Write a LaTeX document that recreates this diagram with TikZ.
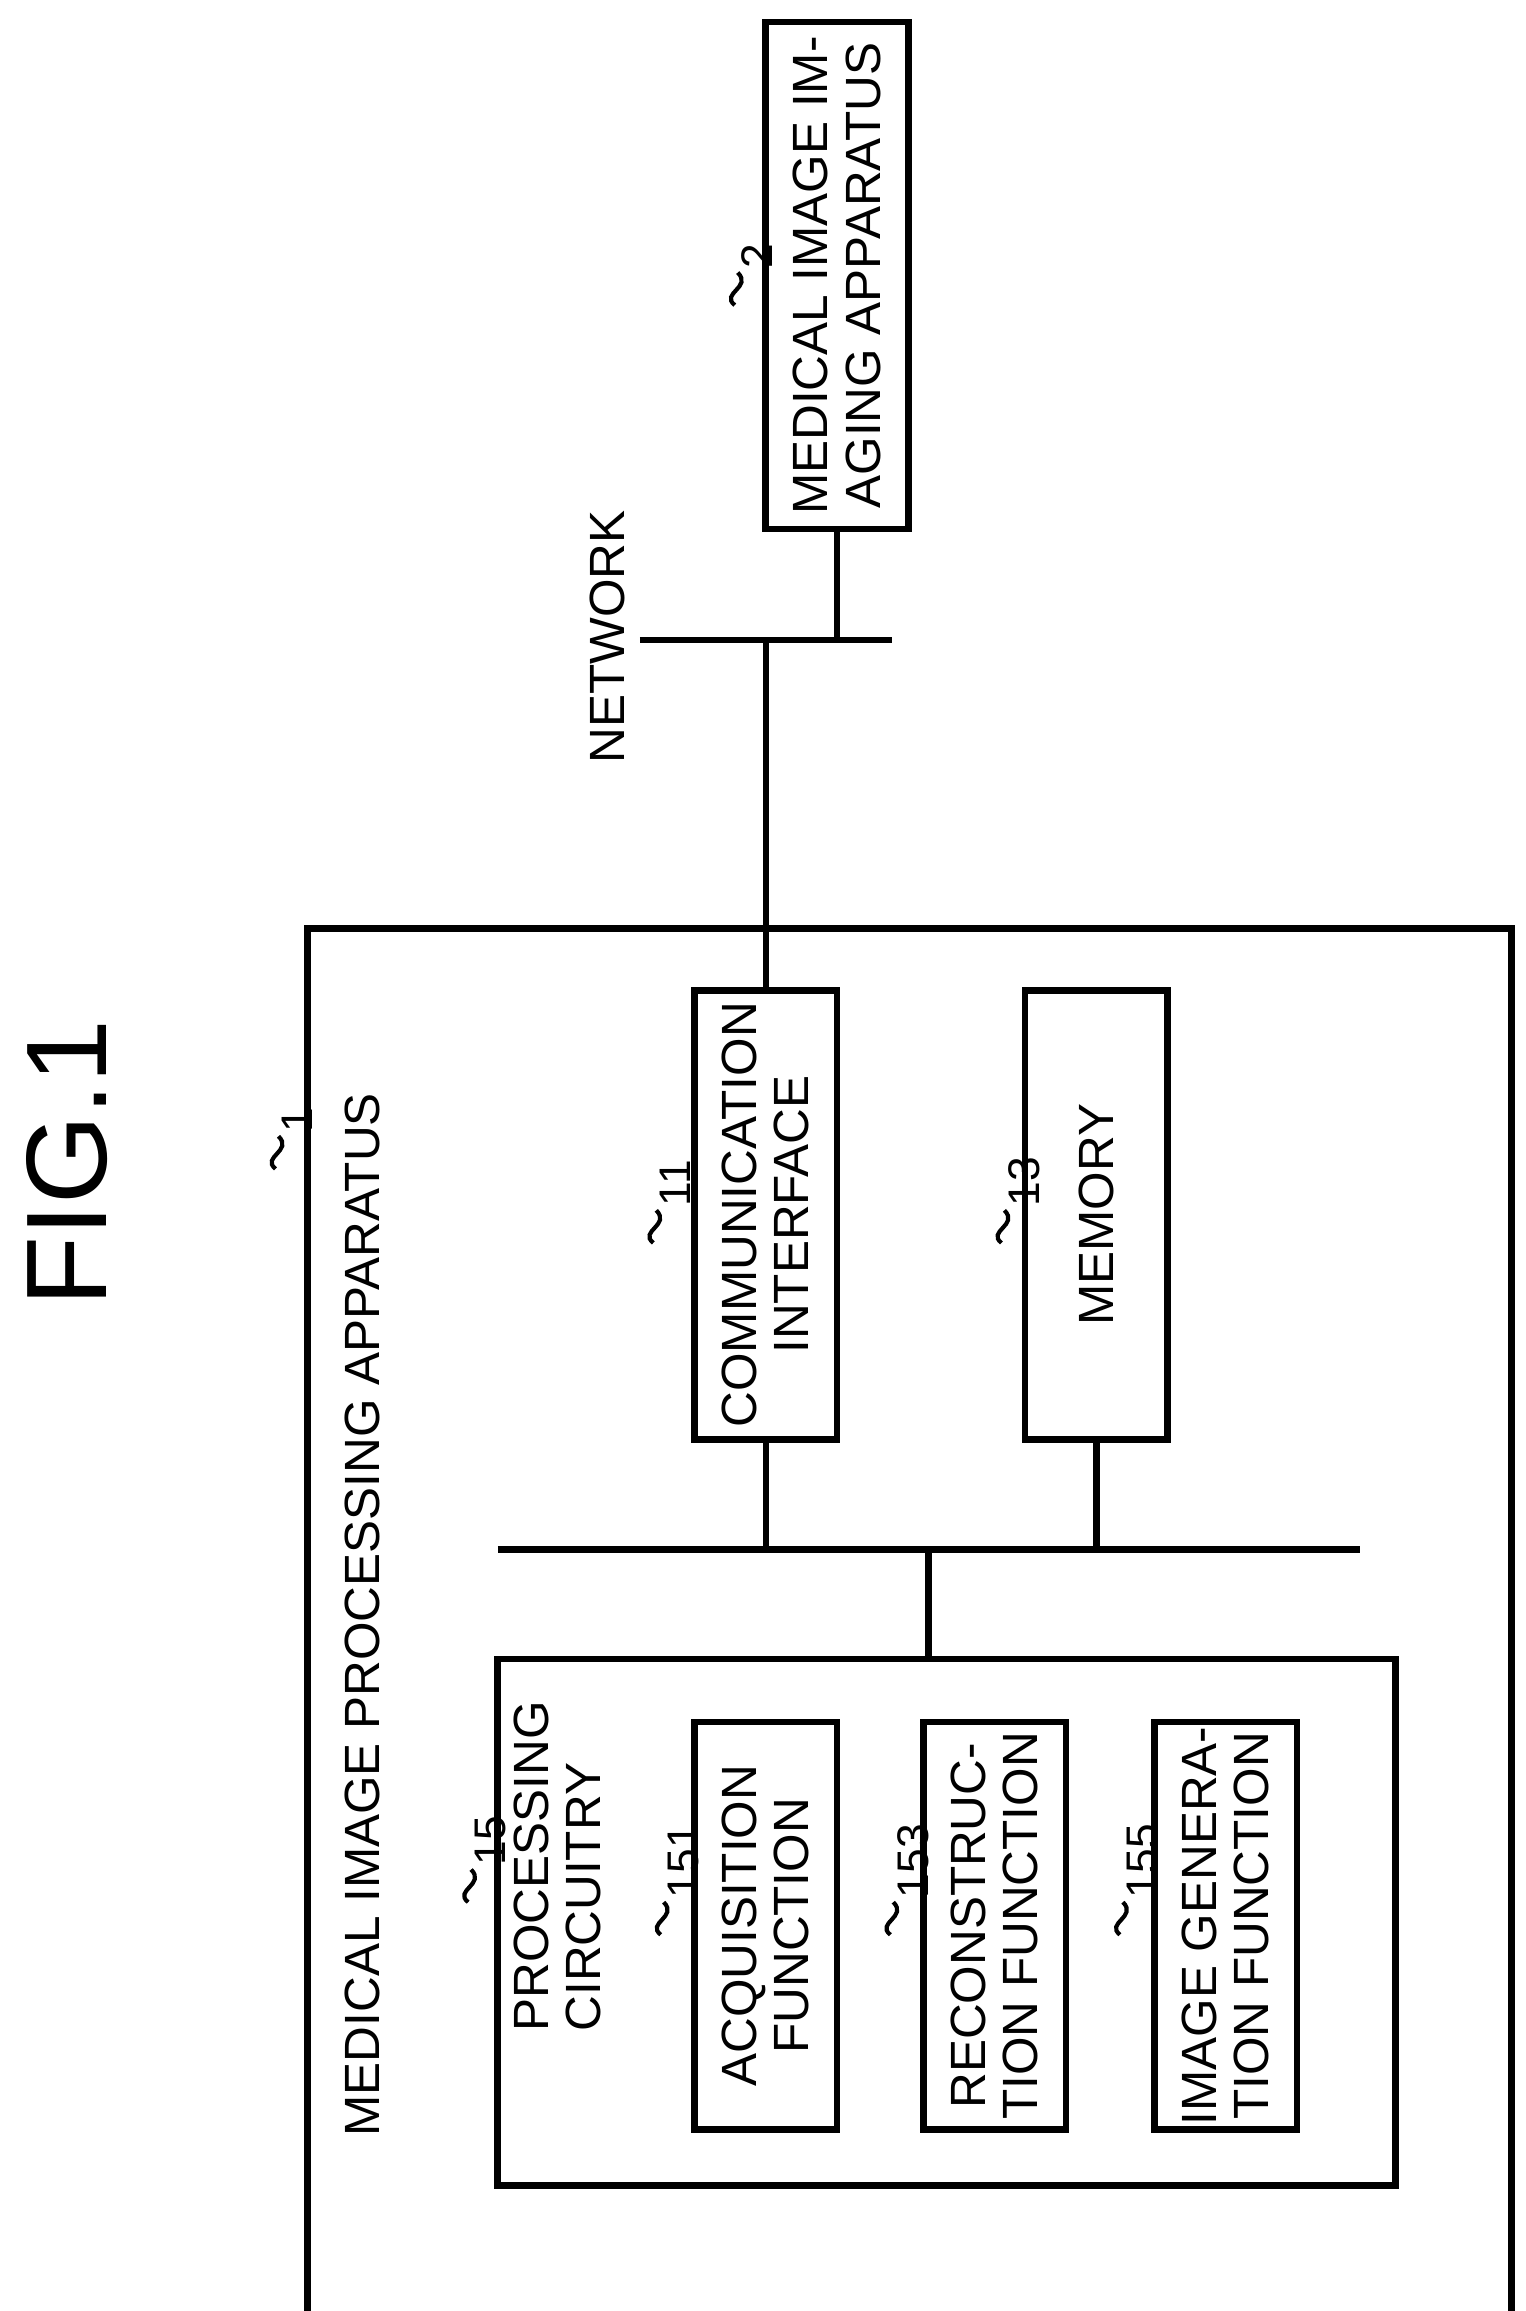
\documentclass[tikz,border=0pt]{standalone}
\usepackage{fontspec}
\setmainfont{Liberation Sans}
\tikzset{
  box/.style={draw, line width=1.3pt, rotate=90, align=center, inner sep=0pt,
    font=\fontsize{9.5}{10}\selectfont},
  txt/.style={rotate=90, align=left, inner sep=0pt, font=\fontsize{9.5}{10}\selectfont},
  line/.style={line width=1.3pt}
}
\newcommand{\refmark}[3]{%
  \draw[line width=0.8pt] (#1-4,#2+14) .. controls (#1-14,#2+6) and (#1+8,#2+2) .. (#1-2,#2-8);
  \node[txt, anchor=north west, font=\fontsize{8.5}{9}\selectfont] at (#1,#2-10) {#3};}
\begin{document}
\begin{tikzpicture}[x=0.01cm, y=-0.01cm]
\useasboundingbox (0,0) rectangle (1030,1560);
% title
\node[rotate=90, font=\fontsize{22}{24}\selectfont] (fig) at (45,785) {FIG.1};
% outer apparatus
\node[box, minimum width=9.53cm, minimum height=8.12cm] (app) at (614,1103.5) {};
\node[txt] (applbl) at (245,1090) {MEDICAL IMAGE PROCESSING APPARATUS};
\refmark{190}{775}{1}
\node[box, minimum width=3.03cm, minimum height=0.96cm] (comm) at (517,820) {COMMUNICATION\\INTERFACE};
\refmark{445}{825}{11}
\node[box, minimum width=3.03cm, minimum height=0.96cm] (mem) at (740,820) {MEMORY};
\refmark{680}{825}{13}
% processing circuitry
\node[box, minimum width=3.55cm, minimum height=6.06cm] (proc) at (639,1297.5) {};
\node[txt, anchor=north west] (proclbl) at (346,1372) {PROCESSING\\CIRCUITRY};
\refmark{320}{1270}{15}
\node[box, minimum width=2.75cm, minimum height=0.96cm] (acq) at (517,1300) {ACQUISITION\\FUNCTION};
\refmark{450}{1292}{151}
\node[box, minimum width=2.75cm, minimum height=0.96cm] (rec) at (671.5,1300) {RECONSTRUC-\\TION FUNCTION};
\refmark{605}{1292}{153}
\node[box, minimum width=2.75cm, minimum height=0.96cm] (img) at (827.5,1300) {IMAGE GENERA-\\TION FUNCTION};
\refmark{760}{1292}{155}
% imaging apparatus
\node[box, minimum width=3.42cm, minimum height=0.96cm] (mod) at (565,186) {MEDICAL IMAGE IM-\\AGING APPARATUS};
\refmark{500}{192}{2}
% bus and network
\coordinate (busL) at (336,1046);
\coordinate (busR) at (918,1046);
\coordinate (busJ) at (627,1046);
\coordinate (netL) at (432,432);
\coordinate (netR) at (602,432);
\node[txt] (netlbl) at (410,430) {NETWORK};
\draw[line] (busL) -- (busR);
\draw[line] (netL) -- (netR);
\draw[line] (comm.west) -- (comm.west |- busL);
\draw[line] (mem.west) -- (mem.west |- busL);
\draw[line] (busJ) -- (busJ |- proc.east);
\draw[line] (comm.east) -- (comm.east |- netL);
\draw[line] (mod.west) -- (mod.west |- netL);
\end{tikzpicture}
\end{document}
